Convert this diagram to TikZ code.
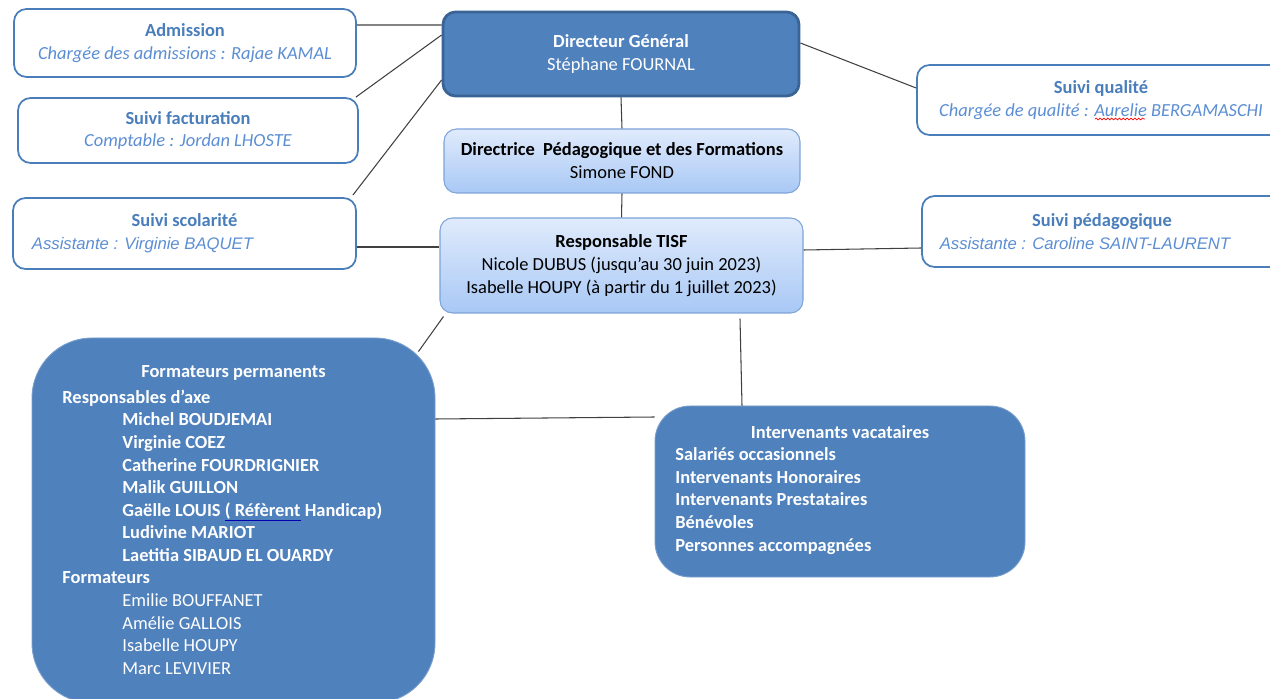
\documentclass[tikz,border=0pt]{standalone}
\usepackage{fontspec}
\usepackage{xcolor}
\setmainfont{Carlito}
\newfontfamily\arialfont{Liberation Sans}
\usetikzlibrary{positioning,decorations.pathmorphing}
\definecolor{boxblue}{HTML}{4F81BD}
\definecolor{darkblue}{HTML}{3A6496}
\definecolor{titleblue}{HTML}{4A7EBB}
\definecolor{subblue}{HTML}{5B8ED4}
\definecolor{lighttop}{HTML}{E0EBFC}
\definecolor{lightbot}{HTML}{A8C8F5}
\definecolor{lightedge}{HTML}{7DA3D8}
\definecolor{linegray}{HTML}{404040}
\newsavebox\markbox
\newcommand\subline[1]{{\color{subblue}\itshape #1}}
\newcommand\arialsub[1]{{\color{subblue}\arialfont\itshape\fontsize{9.5}{13}\selectfont #1}}
\newcommand\nameind{\hspace*{1.2cm}}
\newcommand\blueline[1]{\sbox\markbox{#1}\rlap{\textcolor{blue!70!black}{\rule[-2.5pt]{\wd\markbox}{0.4pt}}}#1}
\tikzstyle{outbox} = [rectangle, rounded corners=0.25cm, draw=titleblue, line width=1pt, fill=white, text=titleblue, align=center, font=\fontsize{10.5}{13}\selectfont]
\tikzstyle{headbox} = [rectangle, rounded corners=0.25cm, draw=darkblue, line width=1.6pt, fill=boxblue, text=white, align=center, font=\fontsize{10.5}{13}\selectfont]
\tikzstyle{gradbox} = [rectangle, rounded corners=0.25cm, draw=lightedge, line width=0.6pt, top color=lighttop, bottom color=lightbot, align=center, font=\fontsize{10.5}{13}\selectfont]
\tikzstyle{groupbox} = [rectangle, draw=boxblue!75!white, line width=0.5pt, fill=boxblue]
\tikzstyle{whitetext} = [text=white, inner sep=0pt, font=\fontsize{10.5}{12.85}\selectfont]
\tikzstyle{link} = [draw=linegray, line width=0.6pt]
\tikzstyle{spellwave} = [draw=red, line width=0.4pt, decorate, decoration={snake, amplitude=0.5pt, segment length=2.2pt}]

\begin{document}
\begin{tikzpicture}
    \useasboundingbox (0,0) rectangle (25.4,-13.98);
    \clip (0,0) rectangle (25.4,-13.98);

    % direction
    \node(dg) [headbox, minimum width=7.12cm, minimum height=1.68cm] at (12.42,-1.08) {\textbf{Directeur Général}\\Stéphane FOURNAL};
    \node(dpf) [gradbox, minimum width=7.12cm, minimum height=1.28cm] at (12.44,-3.22) {\textbf{Directrice\ \ Pédagogique et des Formations}\\Simone FOND};
    \node(tisf) [gradbox, minimum width=7.26cm, minimum height=1.90cm] at (12.43,-5.31) {\textbf{Responsable TISF}\\Nicole DUBUS (jusqu’au 30 juin 2023)\\Isabelle HOUPY (à partir du 1 juillet 2023)};

    % services
    \node(adm) [outbox, minimum width=6.84cm, minimum height=1.36cm] at (3.70,-0.86) {\textbf{Admission}\\\subline{Chargée des admissions : Rajae KAMAL}};
    \node(fact) [outbox, minimum width=6.80cm, minimum height=1.30cm] at (3.76,-2.61) {\textbf{Suivi facturation}\\\subline{Comptable : Jordan LHOSTE}};
    \node(scol) [outbox, minimum width=6.86cm, minimum height=1.42cm] at (3.69,-4.67) {\textbf{Suivi scolarité}\\\hspace*{-1.68cm}\arialsub{Assistante : Virginie BAQUET}};
    \node(qual) [outbox, minimum width=7.36cm, minimum height=1.40cm] at (22.02,-2.00) {\textbf{Suivi qualité}\\\subline{Chargée de qualité : Aurelie BERGAMASCHI}};
    \node(ped) [outbox, minimum width=7.20cm, minimum height=1.42cm] at (22.04,-4.63) {\textbf{Suivi pédagogique}\\\hspace*{-0.68cm}\arialsub{Assistante : Caroline SAINT-LAURENT}};
    \draw[spellwave] ([xshift=-0.12cm,yshift=-0.38cm]qual.center) -- ([xshift=0.88cm,yshift=-0.38cm]qual.center);

    % equipes
    \node(perm) [groupbox, rounded corners=1.2cm, minimum width=8.06cm, minimum height=7.30cm] at (4.67,-10.41) {};
    \node(permtitle) [whitetext] at (4.67,-7.46) {\textbf{Formateurs permanents}};
    \node(permlist) [whitetext, anchor=north west, align=left] at (1.24,-7.79) {\textbf{Responsables d’axe}\\
        \nameind\textbf{Michel BOUDJEMAI}\\
        \nameind\textbf{Virginie COEZ}\\
        \nameind\textbf{Catherine FOURDRIGNIER}\\
        \nameind\textbf{Malik GUILLON}\\
        \nameind\textbf{Gaëlle LOUIS \blueline{( Réfèrent} Handicap)}\\
        \nameind\textbf{Ludivine MARIOT}\\
        \nameind\textbf{Laetitia SIBAUD EL OUARDY}\\
        \textbf{Formateurs}\\
        \nameind Emilie BOUFFANET\\
        \nameind Amélie GALLOIS\\
        \nameind Isabelle HOUPY\\
        \nameind Marc LEVIVIER};
    \node(vac) [groupbox, rounded corners=0.7cm, minimum width=7.40cm, minimum height=3.42cm] at (16.80,-9.83) {};
    \node(vactitle) [whitetext] at (16.80,-8.64) {\textbf{Intervenants vacataires}};
    \node(vaclist) [whitetext, anchor=north west, align=left] at (13.50,-8.95) {\textbf{Salariés occasionnels}\\
        \textbf{Intervenants Honoraires}\\
        \textbf{Intervenants Prestataires}\\
        \textbf{Bénévoles}\\
        \textbf{Personnes accompagnées}};

    % liens
    \draw[link] ([yshift=0.36cm]adm.east) -- ([yshift=0.58cm]dg.west);
    \draw[link] ([xshift=-0.06cm]fact.north east) -- ([yshift=0.38cm]dg.west);
    \draw[link] ([xshift=-0.08cm,yshift=0.04cm]scol.north east) -- ([yshift=-0.52cm]dg.west);
    \draw[link] ([yshift=0.22cm]dg.east) -- ([yshift=0.24cm]qual.west);
    \draw[link] (dg.south) -- (dpf.north);
    \draw[link] (dpf.south) -- (tisf.north);
    \draw[link] ([yshift=-0.27cm]scol.east) -- ([yshift=0.37cm]tisf.west);
    \draw[link] ([yshift=0.31cm]tisf.east) -- ([yshift=-0.33cm]ped.west);
    \draw[link] ([xshift=0.08cm,yshift=-0.06cm]tisf.south west) -- ([xshift=-0.34cm,yshift=-0.28cm]perm.north east);
    \draw[link] ([xshift=2.37cm,yshift=-0.1cm]tisf.south) -- ([xshift=-1.96cm]vac.north);
    \draw[link] ([yshift=2.03cm]perm.east) -- ([yshift=1.49cm]vac.west);
\end{tikzpicture}
\end{document}
